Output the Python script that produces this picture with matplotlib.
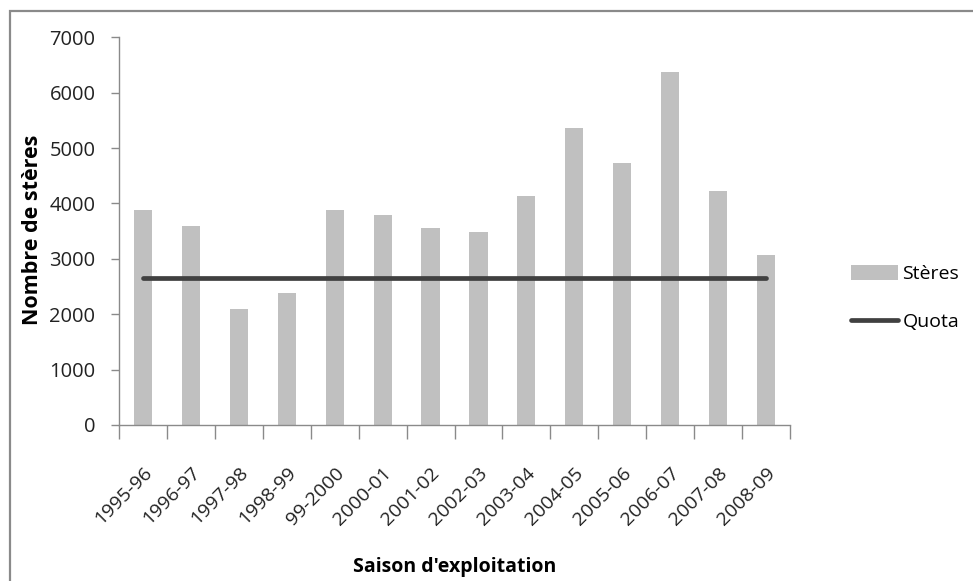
import matplotlib
matplotlib.use("Agg")
import matplotlib.pyplot as plt
from matplotlib.patches import Rectangle
import matplotlib.transforms as mtransforms
import numpy as np

seasons = ["1995-96", "1996-97", "1997-98", "1998-99", "99-2000", "2000-01", "2001-02",
           "2002-03", "2003-04", "2004-05", "2005-06", "2006-07", "2007-08", "2008-09"]
steres = [3875, 3598, 2100, 2377, 3875, 3785, 3550, 3484, 4134, 5355, 4735, 6377, 4224, 3063]
quota = [2653] * len(seasons)
yticks = [0, 1000, 2000, 3000, 4000, 5000, 6000, 7000]

plt.rcParams['font.family'] = ['Open Sans', 'DejaVu Sans']

W, H = 973, 581
fig = plt.figure(figsize=(W / 100, H / 100), dpi=100)
fig.patch.set_facecolor("white")

# outer frame
fig.add_artist(Rectangle((10 / W, -0.1), 1.2, 1 - 11 / H + 0.1, transform=fig.transFigure,
                         fill=False, edgecolor="#8a8a8a", linewidth=1.6))

ax = fig.add_axes([119 / W, 1 - 425 / H, (790 - 119) / W, (425 - 37.3) / H])
x = np.arange(len(seasons))
bars = ax.bar(x, steres, width=0.38, color="#c0c0c0", label="Stères", zorder=2)
line, = ax.plot(x, quota, color="#404040", linewidth=3.4, solid_capstyle="round",
                label="Quota", zorder=3)

ax.set_xlim(-0.5, len(seasons) - 0.5)
ax.set_ylim(0, 7000)
ax.set_yticks(yticks)
ax.set_yticklabels([str(v) for v in yticks], fontsize=14.5, color="#222222")

ax.set_xticks(np.arange(len(seasons) + 1) - 0.5)
ax.set_xticklabels([])
ax.set_xticks(x, minor=True)
labels = ax.set_xticklabels(seasons, minor=True, rotation=45, ha="right", va="top",
                            rotation_mode="anchor", fontsize=14, color="#222222")
offset = mtransforms.ScaledTranslation(6 / 100, 0, fig.dpi_scale_trans)
for lab in labels:
    lab.set_transform(lab.get_transform() + offset)
ax.tick_params(axis="x", which="minor", length=0, pad=28)
ax.tick_params(axis="x", which="major", length=10, color="#8a8a8a", width=1)
ax.tick_params(axis="y", length=6, color="#8a8a8a", width=1, pad=11)

for s in ["top", "right"]:
    ax.spines[s].set_visible(False)
for s in ["left", "bottom"]:
    ax.spines[s].set_color("#8a8a8a")
    ax.spines[s].set_linewidth(1)

ax.set_ylabel("Nombre de stères", fontsize=15.5, fontweight="bold")
ax.yaxis.set_label_coords(43 / W, 1 - 230 / H, transform=fig.transFigure)
fig.text(454.7 / W, 1 - 567 / H, "Saison d'exploitation", fontsize=14, fontweight="bold",
         ha="center", va="center")

leg = ax.legend([bars, line], ["Stères", "Quota"], loc="center left",
                bbox_to_anchor=(851 / W, 1 - 298 / H),
                bbox_transform=fig.transFigure, frameon=False, fontsize=14,
                handlelength=2.4, handleheight=0.8, labelspacing=1.5, handletextpad=0.25,
                borderpad=0, borderaxespad=0)

fig.savefig("out.png", dpi=100)
